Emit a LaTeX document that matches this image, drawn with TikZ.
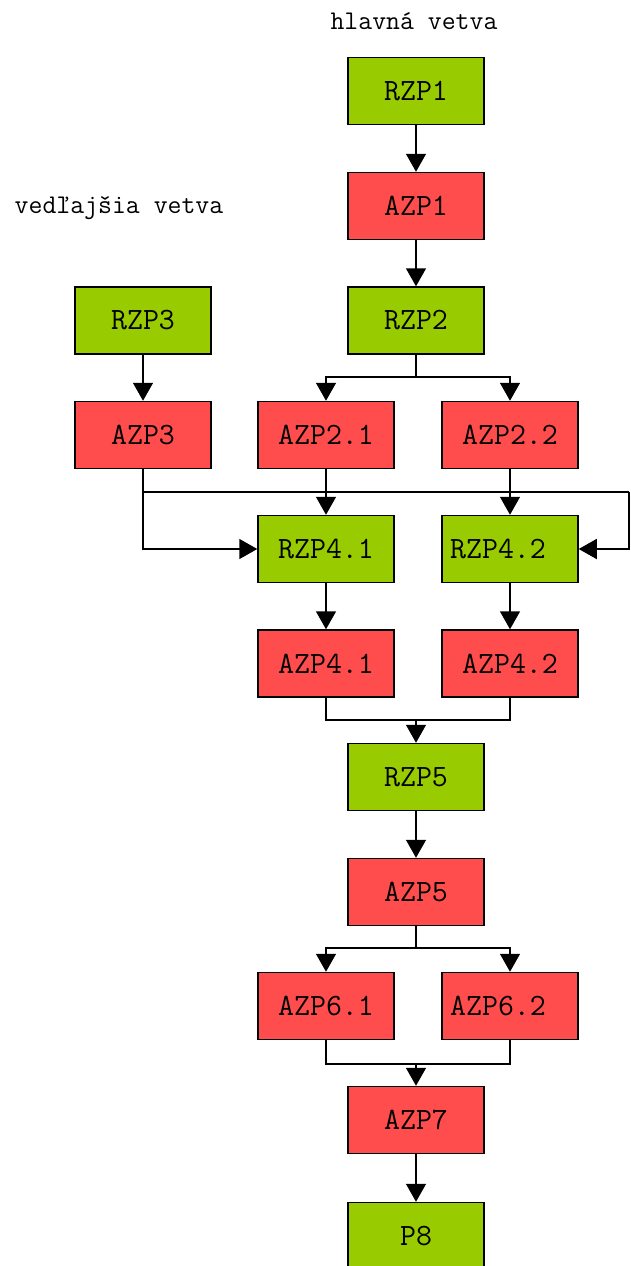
\documentclass[tikz,border=0pt]{standalone}
\usetikzlibrary{arrows.meta}
\definecolor{boxgreen}{RGB}{153,204,0}
\definecolor{boxred}{RGB}{255,77,77}
\begin{document}
\begin{tikzpicture}[x=1pt,y=-1pt,
  box/.style={draw=black,line width=1.5pt,minimum width=136pt,minimum height=67pt,inner sep=0pt,
    font=\ttfamily\fontsize{31}{31}\selectfont},
  rbox/.style={box,fill=boxgreen},
  abox/.style={box,fill=boxred},
  heading/.style={font=\ttfamily\fontsize{27}{27}\selectfont,inner sep=0pt,anchor=base},
  conn/.style={line width=1.5pt},
  flow/.style={conn,-{Triangle[length=18pt,width=20pt]}}]
\useasboundingbox (0,0) rectangle (630,1266);
\clip (0,0) rectangle (630,1266);

% branch titles
\node[heading] (main) at (414,29) {hlavná vetva};
\node[heading] (side) at (119,213) {vedľajšia vetva};

% main branch
\node[rbox] (RZP1) at (416,91) {RZP1};
\node[abox] (AZP1) at (416,206) {AZP1};
\node[rbox] (RZP2) at (416,320.5) {RZP2};
% side branch
\node[rbox] (RZP3) at (143,320.5) {RZP3};
\node[abox] (AZP3) at (143,435) {AZP3};
% parallel parts
\node[abox] (AZP21) at (326,435) {AZP2.1};
\node[abox] (AZP22) at (510,435) {AZP2.2};
\node[rbox] (RZP41) at (326,549) {RZP4.1};
\node[rbox] (RZP42) at (510,549) {RZP4.2\kern24pt};
\node[abox] (AZP41) at (326,663.5) {AZP4.1};
\node[abox] (AZP42) at (510,663.5) {AZP4.2};
\node[rbox] (RZP5) at (416,777) {RZP5};
\node[abox] (AZP5) at (416,892) {AZP5};
\node[abox] (AZP61) at (326,1006) {AZP6.1};
\node[abox] (AZP62) at (510,1006) {AZP6.2\kern24pt};
\node[abox] (AZP7) at (416,1120) {AZP7};
\node[rbox] (P8) at (416,1236) {P8};

% junction points
\coordinate (split2) at (416,377);
\coordinate (busL) at (143,492);
\coordinate (busR) at (629,492);
\coordinate (loopR) at (629,549);
\coordinate (merge4) at (416,720);
\coordinate (split5) at (416,948);
\coordinate (merge6) at (416,1064);

% straight links
\draw[flow] (RZP1) -- (AZP1);
\draw[flow] (AZP1) -- (RZP2);
\draw[flow] (RZP3) -- (AZP3);
\draw[flow] (RZP41) -- (AZP41);
\draw[flow] (RZP42) -- (AZP42);
\draw[flow] (RZP5) -- (AZP5);
\draw[flow] (AZP7) -- (P8);

% RZP2 splits into two parts
\draw[conn] (RZP2.south) -- (split2);
\draw[flow] (split2) -| (AZP21.north);
\draw[flow] (split2) -| (AZP22.north);

% both branches feed RZP4.1 and RZP4.2
\draw[flow] (AZP3.south) |- (RZP41.west);
\draw[conn] (busL) -- (busR);
\draw[flow] (busR) -- (loopR) -- (RZP42.east);
\draw[flow] (AZP21) -- (RZP41);
\draw[flow] (AZP22) -- (RZP42);

% merge into RZP5
\draw[conn] (AZP41.south) |- (merge4) -| (AZP42.south);
\draw[flow] (merge4) -- (RZP5.north);

% AZP5 splits, then merges into AZP7
\draw[conn] (AZP5.south) -- (split5);
\draw[flow] (split5) -| (AZP61.north);
\draw[flow] (split5) -| (AZP62.north);
\draw[conn] (AZP61.south) |- (merge6) -| (AZP62.south);
\draw[flow] (merge6) -- (AZP7.north);
\end{tikzpicture}
\end{document}
